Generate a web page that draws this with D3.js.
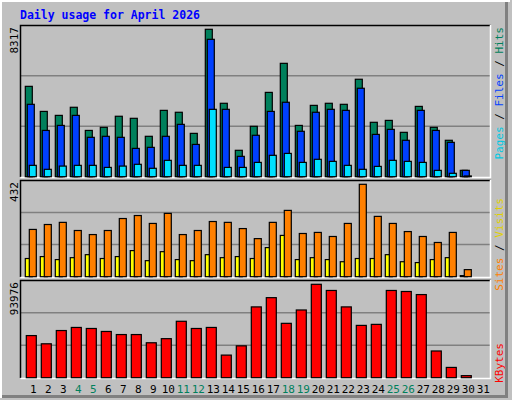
<!DOCTYPE html>
<html><head><meta charset="utf-8">
<script src="https://cdn.jsdelivr.net/npm/d3@7"></script>
<style>body{margin:0;background:#fff}svg{display:block}</style>
</head><body>
<div class="chart"></div>
<script>
// values
var days = d3.range(1, 32);
var weekends = [4, 5, 11, 12, 18, 19, 25, 26];
var hits   = [5098,3684,3460,3917,2611,2786,3410,3294,2279,3743,3635,2445,8317,4142,1489,2844,4757,6396,2894,4025,4142,4084,5498,3069,3177,2503,3967,2786,2054,358,0];
var files  = [4084,2611,2894,3460,2221,2279,2221,1597,1655,2279,2953,1821,7751,3801,1148,2337,3684,4200,2562,3635,3801,3743,4990,2387,2670,2054,3743,2611,1938,358,0];
var pages  = [640,416,599,640,640,524,599,699,474,923,640,640,3801,524,524,807,1206,1314,807,981,865,640,416,582,923,865,807,358,191,42,0];
var visits = [221,244,254,216,197,216,272,286,249,296,197,216,258,254,225,178,254,310,202,207,188,249,432,282,249,211,188,160,207,33,0];
var sites  = [85,94,80,89,103,85,94,122,75,117,80,75,103,89,94,85,136,193,80,89,80,70,85,85,103,70,66,80,89,5,0];
var kbytes = [42383,34113,47458,50559,49525,46518,43417,43417,35147,39282,56762,49525,50559,22742,32046,71234,80537,54694,68133,93976,87774,71234,52627,53660,87774,86740,83639,26877,10337,2067,0];

var W = 512, H = 400;
var svg = d3.select(".chart").append("svg").attr("width", W).attr("height", H)
    .style("font-family", "'DejaVu Sans Mono', monospace");

// frame
svg.append("rect").attr("width", W).attr("height", H).attr("fill", "#c0c0c0");
svg.append("path").attr("d", "M1,398 V1 H510").attr("stroke", "#fff").attr("stroke-width", 2).attr("fill", "none");
svg.append("path").attr("d", "M2,396.5 H506.5 V2").attr("stroke", "#808080").attr("stroke-width", 3).attr("fill", "none");

svg.append("text").attr("x", 20).attr("y", 19).attr("fill", "#0000ff")
    .attr("font-size", 11.5).attr("font-weight", "bold").text("Daily usage for April 2026");

var x = d3.scaleLinear().domain([1, 32]).range([25.3, 490.3]);

var panels = [
    {top: 25, bottom: 177, max: 8317, label: [["Pages", "#00c8e0"], [" / ", "#000"], ["Files", "#0040ff"], [" / ", "#000"], ["Hits", "#00805c"]], labTop: 27},
    {top: 180, bottom: 277, max: 432, label: [["Sites", "#ff8000"], [" / ", "#000"], ["Visits", "#e0d000"]], labTop: 198},
    {top: 280, bottom: 378, max: 93976, label: [["KBytes", "#ff0000"]], labTop: 343}
];

panels.forEach(function(p) {
    var g = svg.append("g");
    g.append("rect").attr("x", 20).attr("y", p.top).attr("width", 471).attr("height", p.bottom - p.top).attr("fill", "#c0c0c0");
    var h = p.bottom - p.top - 1;
    [1, 2].forEach(function(k) {
        g.append("line").attr("x1", 21).attr("x2", 490).attr("y1", p.bottom - 0.5 - h * k / 3).attr("y2", p.bottom - 0.5 - h * k / 3)
            .attr("stroke", "#808080").attr("stroke-width", 1.5);
    });
    g.append("path").attr("d", "M20.5," + p.bottom + " V" + (p.top + 0.5) + " H490.5").attr("stroke", "#000").attr("stroke-width", 1.5).attr("fill", "none");
    g.append("path").attr("d", "M20.5," + (p.bottom + 0.5) + " H490.5 V" + p.top).attr("stroke", "#fff").attr("stroke-width", 1.5).attr("fill", "none");
    p.y = d3.scaleLinear().domain([0, p.max]).range([p.bottom - 0.3, p.top + 4.3]);
    // left max label
    svg.append("text").attr("transform", "translate(18," + (p.top + 2) + ") rotate(-90)")
        .attr("text-anchor", "end").attr("font-size", 11).attr("fill", "#000").text(p.max);
    // right label
    var t = svg.append("text").attr("transform", "translate(503," + p.labTop + ") rotate(-90)")
        .attr("text-anchor", "end").attr("font-size", 11);
    p.label.forEach(function(s) { t.append("tspan").attr("fill", s[1]).text(s[0]); });
});

function bars(series, p, dx, w, color) {
    svg.append("g").selectAll("rect").data(series).enter().append("rect")
        .attr("x", function(d, i) { return x(days[i]) + dx; })
        .attr("y", function(d) { return p.y(d); })
        .attr("width", w)
        .attr("height", function(d) { return p.y(0) - p.y(d); })
        .attr("fill", color).attr("stroke", "#000").attr("stroke-width", 1.2);
}

bars(hits, panels[0], 0, 7, "#00805c");
bars(files, panels[0], 2, 7, "#0040ff");
bars(pages, panels[0], 4, 7, "#00e0ff");
bars(sites, panels[1], 0, 7, "#ffff00");
bars(visits, panels[1], 4, 7, "#ff8000");
bars(kbytes, panels[2], 1, 10, "#ff0000");

svg.append("g").selectAll("text").data(days).enter().append("text")
    .attr("x", function(d) { return x(d) + 8; })
    .attr("y", 393).attr("text-anchor", "middle").attr("font-size", 11)
    .attr("fill", function(d) { return weekends.indexOf(d) >= 0 ? "#00805c" : "#000"; })
    .text(function(d) { return d; });
</script>
</body></html>
